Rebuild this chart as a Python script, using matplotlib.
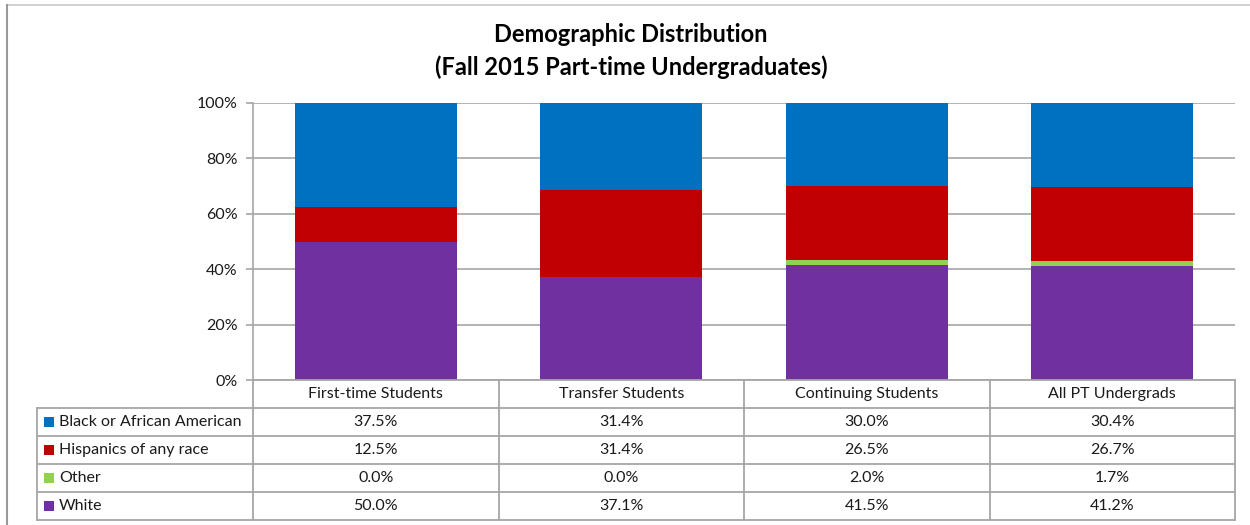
import numpy as np
import matplotlib
matplotlib.use("Agg")
import matplotlib.pyplot as plt
from matplotlib.lines import Line2D
from matplotlib.patches import Rectangle

plt.rcParams['font.family'] = ['Lato', 'DejaVu Sans']

# data
categories = ["First-time Students", "Transfer Students", "Continuing Students", "All PT Undergrads"]
series = ["Black or African American", "Hispanics of any race", "Other", "White"]
black = [37.5, 31.4, 30.0, 30.4]
hispanic = [12.5, 31.4, 26.5, 26.7]
other = [0.0, 0.0, 2.0, 1.7]
white = [50.0, 37.1, 41.5, 41.2]
colors = ["#0070C0", "#C00000", "#92D050", "#7030A0"]
yticks = [0, 20, 40, 60, 80, 100]

W, H = 1250, 525
fig = plt.figure(figsize=(W / 100, H / 100), dpi=100)

def fx(x):
    return x / W

def fy(y):
    return 1 - y / H

# pixel layout
ax_l, ax_r, ax_t, ax_b = 253, 1235, 103, 380
ax = fig.add_axes([fx(ax_l), fy(ax_b), fx(ax_r - ax_l), (ax_b - ax_t) / H])

vals = np.array([white, other, hispanic, black])
vals = vals / vals.sum(axis=0) * 100  # 100% stacked like Excel
stack_cols = [colors[3], colors[2], colors[1], colors[0]]
x = np.arange(len(categories))
bottom = np.zeros(len(categories))
for v, c in zip(vals, stack_cols):
    ax.bar(x, v, bottom=bottom, width=0.66, color=c, zorder=3)
    bottom += v

fs = 11.5
tc = "#1a1a1a"
ax.set_xlim(-0.5, len(categories) - 0.5)
ax.set_ylim(0, 100)
ax.set_yticks(yticks)
ax.set_yticklabels([f"{t}%" for t in yticks], fontsize=fs, color=tc)
ax.set_xticks([])
ax.grid(axis="y", color="#a6a6a6", linewidth=1.2, zorder=0)
for s in ["top", "right", "bottom"]:
    ax.spines[s].set_visible(False)
ax.spines["left"].set_color("#a6a6a6")
ax.spines["left"].set_linewidth(1.2)
ax.tick_params(axis="y", length=5, width=1.2, color="#a6a6a6", pad=6)

# title
fig.text(fx(631), fy(35), "Demographic Distribution", ha="center", va="center",
         fontsize=17, fontweight="bold", color="black")
fig.text(fx(631), fy(67), "(Fall 2015 Part-time Undergraduates)", ha="center", va="center",
         fontsize=17, fontweight="bold", color="black")

# data table
gc = "#a6a6a6"
lw = 1.3
col_w = (ax_r - ax_l) / len(categories)
row_y = [380, 408, 436, 464, 492, 520]
lab_l = 37

def hline(y, x0, x1):
    fig.add_artist(Line2D([fx(x0), fx(x1)], [fy(y), fy(y)], color=gc, lw=lw))

def vline(x, y0, y1):
    fig.add_artist(Line2D([fx(x), fx(x)], [fy(y0), fy(y1)], color=gc, lw=lw))

hline(row_y[0], ax_l, ax_r)
for y in row_y[1:]:
    hline(y, lab_l, ax_r)
for i in range(len(categories) + 1):
    vline(ax_l + i * col_w, row_y[0], row_y[-1])
vline(lab_l, row_y[1], row_y[-1])

for i, cat in enumerate(categories):
    cx = ax_l + (i + 0.5) * col_w
    fig.text(fx(cx), fy((row_y[0] + row_y[1]) / 2), cat, ha="center", va="center",
             fontsize=fs, color=tc)

table_vals = [black, hispanic, other, white]
for r, (name, vv, c) in enumerate(zip(series, table_vals, colors)):
    yc = (row_y[r + 1] + row_y[r + 2]) / 2
    fig.add_artist(Rectangle((fx(44), fy(yc + 5)), 10 / W, 10 / H,
                             facecolor=c, edgecolor="none"))
    fig.text(fx(59), fy(yc), name, ha="left", va="center", fontsize=fs, color=tc)
    for i, v in enumerate(vv):
        cx = ax_l + (i + 0.5) * col_w
        fig.text(fx(cx), fy(yc), f"{v:.1f}%", ha="center", va="center",
                 fontsize=fs, color=tc)

# chart border
fig.add_artist(Line2D([fx(7), fx(1250)], [fy(5), fy(5)], color="#c8c8c8", lw=1.2))
fig.add_artist(Line2D([fx(7), fx(7)], [fy(5), fy(525)], color="#9a9a9a", lw=1.5))

fig.savefig("out.png", dpi=100)
